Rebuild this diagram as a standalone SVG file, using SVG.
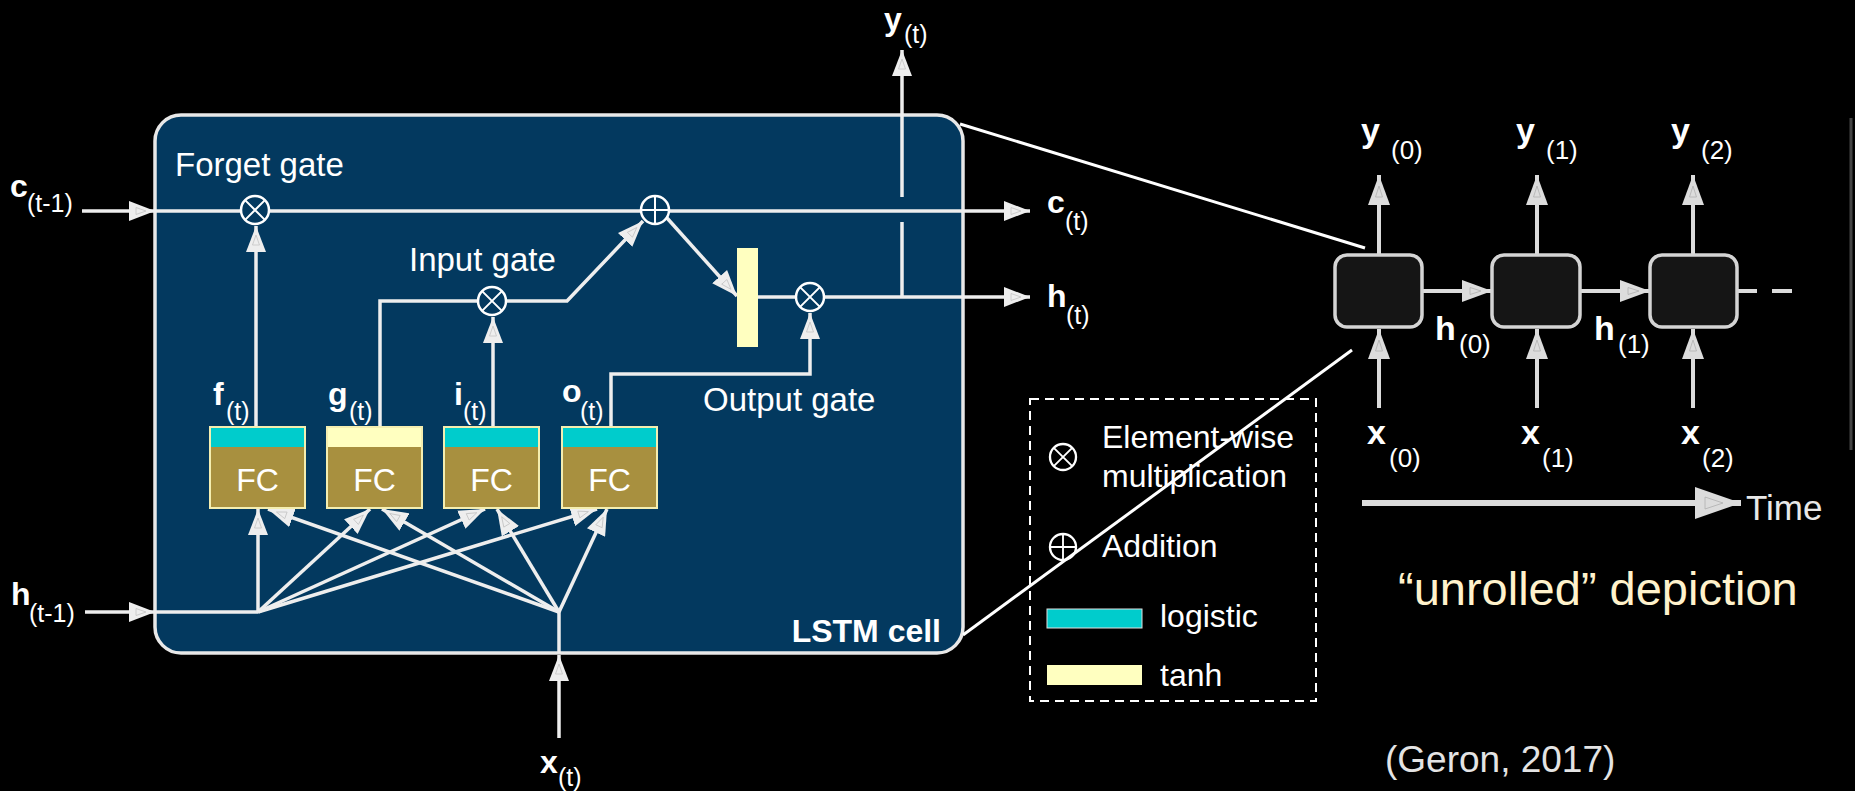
<svg xmlns="http://www.w3.org/2000/svg" width="1855" height="791" viewBox="0 0 1855 791">
<defs>
<style>
text{font-family:"Liberation Sans",Arial,sans-serif;fill:#ffffff}
.lbl{font-size:32px;font-weight:bold}
.sub{font-size:25px}
.ulbl{font-size:34px;font-weight:bold}
.usub{font-size:26px}
.gate{font-size:33px}
.fc{font-size:32px;text-anchor:middle}
.leg{font-size:32px}
.ln{fill:none;stroke:#eeeeee;stroke-width:3.5}
.arr{fill:none;stroke:#eeeeee;stroke-width:3.5;marker-end:url(#ah)}
.uarr{fill:none;stroke:#dcdcdc;stroke-width:4;marker-end:url(#ahu)}
.fcbox{fill:#a8903f;stroke:#f4eeb0;stroke-width:2}
.logi{fill:#00cccc}
.tanh{fill:#ffffc0}
.ucell{fill:#151515;stroke:#d4d4d4;stroke-width:3.5}
</style>
<marker id="ah" markerUnits="userSpaceOnUse" viewBox="0 0 26 20" refX="26" refY="10" markerWidth="26" markerHeight="20" orient="auto">
<path d="M0,0 L26,10 L0,20 Z" fill="#eeeeee"/>
<path d="M7,6.5 L17,10 L7,13.5 Z" fill="none" stroke="#c4c4c4" stroke-width="0.8"/>
</marker>
<marker id="ahu" markerUnits="userSpaceOnUse" viewBox="0 0 30 22" refX="30" refY="11" markerWidth="30" markerHeight="22" orient="auto">
<path d="M0,0 L30,11 L0,22 Z" fill="#dcdcdc"/>
<path d="M8,7.5 L19,11 L8,14.5 Z" fill="none" stroke="#b0b0b0" stroke-width="0.8"/>
</marker>
<marker id="aht" markerUnits="userSpaceOnUse" viewBox="0 0 46 32" refX="46" refY="16" markerWidth="46" markerHeight="32" orient="auto">
<path d="M0,0 L46,16 L0,32 Z" fill="#dcdcdc"/>
<path d="M10,10 L28,16 L10,22 Z" fill="none" stroke="#b0b0b0" stroke-width="0.8"/>
</marker>
<g id="otimes"><circle r="14" stroke="#ffffff" stroke-width="2.5"/><path d="M-9.9,-9.9 L9.9,9.9 M-9.9,9.9 L9.9,-9.9" stroke="#ffffff" stroke-width="2"/></g>
<g id="oplus"><circle r="14" stroke="#ffffff" stroke-width="2.5"/><path d="M-14,0 H14 M0,-14 V14" stroke="#ffffff" stroke-width="2"/></g>
</defs>
<rect x="0" y="0" width="1855" height="791" fill="#000000"/>

<g id="lstm-cell">
<rect x="155" y="115" width="808" height="538" rx="26" fill="#03395f" stroke="#e8e8e8" stroke-width="3.5"/>
<text class="gate" x="175" y="176">Forget gate</text>
<text class="gate" x="409" y="271">Input gate</text>
<text class="gate" x="703" y="411">Output gate</text>
<text class="lbl" x="941" y="642" text-anchor="end">LSTM cell</text>
</g>

<g id="connectors">
<path class="arr" d="M82,211 H155"/>
<path class="arr" d="M85,612 H155"/>
<path class="arr" d="M559,738 V655"/>
<path class="ln" d="M559,653 V612"/>
<path class="ln" d="M155,612 H258"/>
<path class="arr" d="M155,211 H1030"/>
<path class="arr" d="M256,427 V226"/>
<path class="ln" d="M380,427 V301 H478"/>
<path class="arr" d="M493,427 V317"/>
<path class="arr" d="M506,301 H567 L643,221"/>
<path class="arr" d="M667,218 L737,296"/>
<path class="ln" d="M758,297 H796"/>
<path class="arr" d="M611,427 V374 H810 V313"/>
<path class="arr" d="M824,297 H1030"/>
<path class="ln" d="M902,297 V222"/>
<path class="arr" d="M902,197 V50"/>
<path class="arr" d="M258,612 V509"/>
<path class="arr" d="M258,612 L370,509"/>
<path class="arr" d="M258,612 L485,509"/>
<path class="arr" d="M258,612 L597,509"/>
<path class="arr" d="M559,612 L268,509"/>
<path class="arr" d="M559,612 L382,509"/>
<path class="arr" d="M559,612 L497,509"/>
<path class="arr" d="M559,612 L607,509"/>
</g>

<g id="op-forget"><use href="#otimes" x="255" y="210" fill="#03395f"/></g>
<g id="op-input"><use href="#otimes" x="492" y="301" fill="#03395f"/></g>
<g id="op-add"><use href="#oplus" x="655" y="210" fill="#03395f"/></g>
<g id="op-output"><use href="#otimes" x="810" y="297" fill="#03395f"/></g>
<g id="tanh-bar"><rect x="737" y="248" width="21" height="99" class="tanh"/></g>

<g id="fc-f">
<rect class="fcbox" x="210" y="427" width="95" height="81"/>
<rect class="logi" x="211" y="428" width="93" height="19"/>
<text class="fc" x="257.5" y="491">FC</text>
<text class="lbl" x="213" y="405">f</text><text class="sub" x="226" y="420">(t)</text>
</g>
<g id="fc-g">
<rect class="fcbox" x="327" y="427" width="95" height="81"/>
<rect class="tanh" x="328" y="428" width="93" height="19"/>
<text class="fc" x="374.5" y="491">FC</text>
<text class="lbl" x="328" y="405">g</text><text class="sub" x="349" y="420">(t)</text>
</g>
<g id="fc-i">
<rect class="fcbox" x="444" y="427" width="95" height="81"/>
<rect class="logi" x="445" y="428" width="93" height="19"/>
<text class="fc" x="491.5" y="491">FC</text>
<text class="lbl" x="454" y="405">i</text><text class="sub" x="463" y="420">(t)</text>
</g>
<g id="fc-o">
<rect class="fcbox" x="562" y="427" width="95" height="81"/>
<rect class="logi" x="563" y="428" width="93" height="19"/>
<text class="fc" x="609.5" y="491">FC</text>
<text class="lbl" x="562" y="402">o</text><text class="sub" x="580" y="420">(t)</text>
</g>

<g id="io-labels">
<text class="lbl" x="10" y="197">c</text><text class="sub" x="27" y="212">(t-1)</text>
<text class="lbl" x="11" y="605">h</text><text class="sub" x="29" y="622">(t-1)</text>
<text class="lbl" x="540" y="773">x</text><text class="sub" x="558" y="786">(t)</text>
<text class="lbl" x="884" y="30">y</text><text class="sub" x="904" y="43">(t)</text>
<text class="lbl" x="1047" y="213">c</text><text class="sub" x="1065" y="230">(t)</text>
<text class="lbl" x="1047" y="307">h</text><text class="sub" x="1066" y="324">(t)</text>
</g>

<g id="legend">
<rect x="1030" y="399" width="286" height="302" fill="none" stroke="#ffffff" stroke-width="2" stroke-dasharray="9 6"/>
<use href="#otimes" transform="translate(1063,457) scale(0.93)" fill="#000000"/>
<text class="leg" x="1102" y="448">Element-wise</text>
<text class="leg" x="1102" y="487">multiplication</text>
<use href="#oplus" transform="translate(1063,547) scale(0.93)" fill="#000000"/>
<text class="leg" x="1102" y="557">Addition</text>
<rect class="logi" x="1047" y="609" width="95" height="19" stroke="#e0e0e0" stroke-width="1"/>
<text class="leg" x="1160" y="627">logistic</text>
<rect class="tanh" x="1047" y="665" width="95" height="20"/>
<text class="leg" x="1160" y="686">tanh</text>
</g>

<g id="zoom-lines">
<path d="M960,124 L1365,248" stroke="#ffffff" stroke-width="3" fill="none"/>
<path d="M963,635 L1352,350" stroke="#ffffff" stroke-width="3" fill="none"/>
</g>

<g id="unrolled-connectors">
<path class="uarr" d="M1379,255 V175"/>
<path class="uarr" d="M1537,255 V175"/>
<path class="uarr" d="M1693,255 V175"/>
<path class="uarr" d="M1379,408 V329"/>
<path class="uarr" d="M1537,408 V329"/>
<path class="uarr" d="M1693,408 V329"/>
<path class="uarr" d="M1422,291 H1492"/>
<path class="uarr" d="M1580,291 H1650"/>
<path d="M1737,291 H1757 M1772,291 H1792" stroke="#dcdcdc" stroke-width="4" fill="none"/>
<path d="M1362,503 H1741" stroke="#dcdcdc" stroke-width="6" fill="none" marker-end="url(#aht)"/>
</g>
<g id="cell-0"><rect class="ucell" x="1335" y="255" width="87" height="72" rx="12"/></g>
<g id="cell-1"><rect class="ucell" x="1492" y="255" width="88" height="72" rx="12"/></g>
<g id="cell-2"><rect class="ucell" x="1650" y="255" width="87" height="72" rx="12"/></g>
<g id="unrolled-labels">
<text class="ulbl" x="1361" y="142">y</text><text class="usub" x="1391" y="159">(0)</text>
<text class="ulbl" x="1516" y="142">y</text><text class="usub" x="1546" y="159">(1)</text>
<text class="ulbl" x="1671" y="142">y</text><text class="usub" x="1701" y="159">(2)</text>
<text class="ulbl" x="1435" y="340">h</text><text class="usub" x="1459" y="353">(0)</text>
<text class="ulbl" x="1594" y="340">h</text><text class="usub" x="1618" y="353">(1)</text>
<text class="ulbl" x="1367" y="444">x</text><text class="usub" x="1389" y="467">(0)</text>
<text class="ulbl" x="1521" y="444">x</text><text class="usub" x="1542" y="467">(1)</text>
<text class="ulbl" x="1681" y="444">x</text><text class="usub" x="1702" y="467">(2)</text>
<text x="1746" y="520" style="font-size:35px;fill:#e8e8e8">Time</text>
</g>
<path d="M1851,118 V450" stroke="#444444" stroke-width="3"/>

<text x="1398" y="605" style="font-size:47px;fill:#fff2cc">“unrolled” depiction</text>
<text x="1385" y="772" style="font-size:37px;fill:#e4e4e4">(Geron, 2017)</text>
</svg>
